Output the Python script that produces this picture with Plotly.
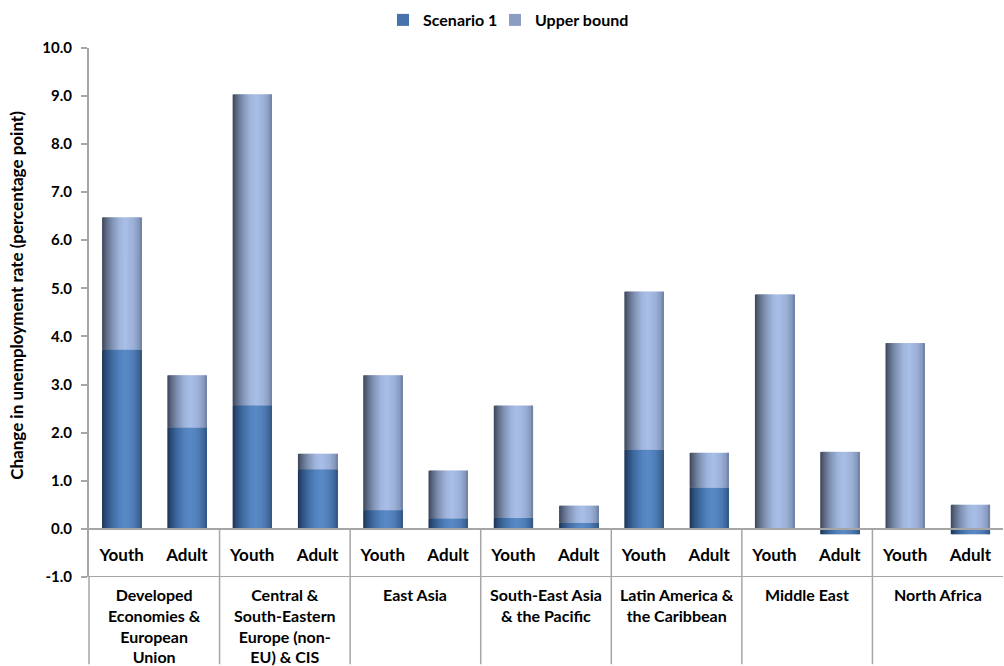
import numpy as np
import plotly.graph_objects as go

# Regions (outer level) and age groups (inner level)
regions = [
    "Developed<br>Economies &<br>European<br>Union",
    "Central &<br>South-Eastern<br>Europe (non-<br>EU) & CIS",
    "East Asia",
    "South-East Asia<br>& the Pacific",
    "Latin America &<br>the Caribbean",
    "Middle East",
    "North Africa",
]
age_groups = ["Youth", "Adult"]

# Change in unemployment rate, percentage points (Youth, Adult per region)
scenario_1 = [3.73, 2.11, 2.57, 1.24, 0.39, 0.22, 0.23, 0.13, 1.65, 0.86, 0.00, -0.11, 0.00, -0.11]
upper_bound = [6.47, 3.19, 9.03, 1.56, 3.19, 1.21, 2.56, 0.48, 4.93, 1.58, 4.87, 1.60, 3.86, 0.50]

y_tick_values = [-1, 0, 1, 2, 3, 4, 5, 6, 7, 8, 9, 10]
y_tick_labels = ["-1.0", "0.0", "1.0", "2.0", "3.0", "4.0", "5.0", "6.0", "7.0", "8.0", "9.0", "10.0"]
y_title = "Change in unemployment rate (percentage point)"

FONT = "Lato"
GREY = "#a6a6a6"
Y_MIN, Y_MAX = -1, 10
W, H = 1004, 666
MARGIN_L, MARGIN_R, MARGIN_T, MARGIN_B = 89, 1, 37, 89
PLOT_W = W - MARGIN_L - MARGIN_R
PLOT_H = H - MARGIN_T - MARGIN_B

n_groups = len(age_groups)
positions = np.arange(len(regions) * n_groups)
inner_labels = [a for _ in regions for a in age_groups]
group_centres = [g * n_groups + (n_groups - 1) / 2 for g in range(len(regions))]
group_edges = [g * n_groups - 0.5 for g in range(1, len(regions))]

scen = np.array(scenario_1)
base_upper = np.maximum(scen, 0.0)
upper_seg = np.array(upper_bound) - base_upper

# Horizontal shading across each column (fraction of width -> colour)
def shade(stops, t):
    xs = [s[0] for s in stops]
    rgb = np.array([[int(c[1:3], 16), int(c[3:5], 16), int(c[5:7], 16)] for _, c in stops])
    r, g, b = (np.interp(t, xs, rgb[:, k]) for k in range(3))
    return "rgb(%d,%d,%d)" % (round(r), round(g), round(b))

scen_stops = [(0.0, "#1c3150"), (0.08, "#2a4a75"), (0.25, "#3f6aa0"), (0.45, "#5383bf"),
              (0.6, "#5a8ac6"), (0.8, "#4f7db6"), (0.95, "#3c6496"), (1.0, "#325683")]
upper_stops = [(0.0, "#3c4659"), (0.08, "#56627a"), (0.25, "#7f91b2"), (0.45, "#a0b5dc"),
               (0.6, "#a9bfe7"), (0.8, "#9cb0d8"), (0.95, "#8497bb"), (1.0, "#6f7f9e")]

BAR_W = 0.6
N = 39
strip = BAR_W / N
legend_idx = int(0.33 * N)

fig = go.Figure()

for name, vals, bases, stops, leg in [
    ("Scenario 1", scen, np.zeros_like(scen), scen_stops, "legend"),
    ("Upper bound", upper_seg, base_upper, upper_stops, "legend2"),
]:
    for i in range(N):
        t = (i + 0.5) / N
        fig.add_trace(go.Bar(
            x=positions,
            y=vals,
            base=bases,
            offset=-BAR_W / 2 + i * strip,
            width=strip * (2.2 if i < N - 1 else 1.0),
            marker=dict(color=shade(stops, t), line=dict(width=0)),
            name=name,
            legend=leg,
            legendgroup=name,
            showlegend=(i == legend_idx),
            hoverinfo="skip",
        ))

zero_pos = (0 - Y_MIN) / (Y_MAX - Y_MIN)
bottom = -MARGIN_B / PLOT_H

shapes = [
    # row separator under the age-group labels
    dict(type="line", xref="paper", yref="y", x0=0, x1=1, y0=Y_MIN, y1=Y_MIN,
         line=dict(color=GREY, width=2)),
    # left edge of the label table
    dict(type="line", xref="paper", yref="paper", x0=0, x1=0, y0=0, y1=bottom,
         line=dict(color=GREY, width=1.5)),
]
for e in group_edges:
    shapes.append(dict(type="line", xref="x", yref="paper", x0=e, x1=e,
                       y0=zero_pos, y1=bottom, line=dict(color=GREY, width=1.5)))

annotations = [
    dict(text=r, x=c, xref="x", y=-6 / PLOT_H, yref="paper", yanchor="top",
         xanchor="center", showarrow=False, align="center",
         font=dict(family=FONT, size=16, weight="bold", color="black"))
    for r, c in zip(regions, group_centres)
]
annotations.append(dict(
    text=y_title, textangle=-90, showarrow=False,
    xref="paper", x=(17 - MARGIN_L) / PLOT_W, xanchor="center",
    yref="paper", y=(H - MARGIN_B - 290) / PLOT_H, yanchor="middle",
    font=dict(family=FONT, size=17, weight="bold", color="black"),
))

legend_style = dict(
    orientation="h",
    xref="container", xanchor="left",
    yref="container", y=1 - 20 / H, yanchor="middle",
    bgcolor="rgba(0,0,0,0)",
    font=dict(family=FONT, size=16, weight="bold"),
    itemwidth=30,
)

fig.update_layout(
    width=W,
    height=H,
    barmode="overlay",
    paper_bgcolor="white",
    plot_bgcolor="white",
    margin=dict(l=MARGIN_L, r=MARGIN_R, t=MARGIN_T, b=MARGIN_B),
    font=dict(family=FONT, size=16, color="black", weight="bold"),
    legend=dict(legend_style, x=(403 - 20) / W),
    legend2=dict(legend_style, x=(515 - 20) / W),
    xaxis=dict(
        range=[-0.5, len(positions) - 0.5],
        anchor="free",
        position=zero_pos,
        tickmode="array",
        tickvals=positions,
        ticktext=inner_labels,
        ticks="",
        ticklabelstandoff=11,
        showline=True,
        linecolor=GREY,
        linewidth=2,
        showgrid=False,
        zeroline=False,
        tickfont=dict(family=FONT, size=17, weight="bold"),
    ),
    yaxis=dict(
        range=[Y_MIN, Y_MAX],
        tickmode="array",
        tickvals=y_tick_values,
        ticktext=y_tick_labels,
        ticks="outside",
        ticklen=6,
        tickwidth=2,
        tickcolor=GREY,
        ticklabelstandoff=6,
        showline=True,
        linecolor=GREY,
        linewidth=2,
        showgrid=False,
        zeroline=False,
        tickfont=dict(family=FONT, size=15, weight="bold"),
    ),
    shapes=shapes,
    annotations=annotations,
)

fig.write_html("out.html")
